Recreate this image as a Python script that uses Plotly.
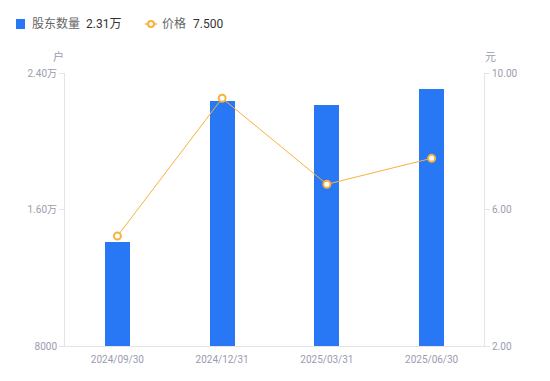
import plotly.graph_objects as go

categories = ["2024/09/30", "2024/12/31", "2025/03/31", "2025/06/30"]
holders = [14100, 22380, 22110, 23050]
prices = [5.22, 9.26, 6.74, 7.50]
left_ticks = [8000, 16000, 24000]
left_ticktext = ["8000", "1.60万", "2.40万"]
right_ticks = [2, 6, 10]
right_ticktext = ["2.00", "6.00", "10.00"]

grey = "#9a9caf"
axis_col = "#e3e3e8"
blue = "#2878f5"
orange = "#f7b23b"
FONT = "Roboto, Noto Sans CJK SC, sans-serif"

# figure placed with an 8px page offset; margins compensate
W, H = 550, 381
L, R, T, B = 57, 74, 65, 43
PW, PH = W - L - R, H - T - B
OFF = 8


def px(xw):
    return (xw - OFF - L) / PW


def py(yw):
    return (H - B - (yw - OFF)) / PH


fig = go.Figure()
fig.add_trace(go.Bar(
    x=categories, y=holders, name="股东数量",
    marker=dict(color=blue, line=dict(width=0)), width=0.24, yaxis="y",
))
fig.add_trace(go.Scatter(
    x=categories, y=prices, name="价格",
    mode="lines+markers", yaxis="y2",
    line=dict(color=orange, width=1),
    marker=dict(symbol="circle", size=7, color="white", line=dict(color=orange, width=2)),
))

shapes = [
    dict(type="rect", xref="paper", yref="paper", x0=px(16), x1=px(25), y0=py(29), y1=py(19),
         fillcolor=blue, line=dict(width=0)),
    dict(type="line", xref="paper", yref="paper", x0=px(145), x1=px(157), y0=py(24), y1=py(24),
         line=dict(color=orange, width=1.5)),
    dict(type="circle", xref="paper", yref="paper", x0=px(148), x1=px(154), y0=py(27), y1=py(21),
         fillcolor="white", line=dict(color=orange, width=2)),
]

annotations = [
    dict(text="股东数量", xref="paper", yref="paper", x=px(30), y=py(24), xanchor="left",
         yanchor="middle", showarrow=False, font=dict(size=12, color="#666", family=FONT)),
    dict(text="2.31万", xref="paper", yref="paper", x=px(84), y=py(24), xanchor="left",
         yanchor="middle", showarrow=False, font=dict(size=12, color="#333", family=FONT)),
    dict(text="价格", xref="paper", yref="paper", x=px(160), y=py(24), xanchor="left",
         yanchor="middle", showarrow=False, font=dict(size=12, color="#666", family=FONT)),
    dict(text="7.500", xref="paper", yref="paper", x=px(191), y=py(24), xanchor="left",
         yanchor="middle", showarrow=False, font=dict(size=12, color="#333", family=FONT)),
    dict(text="户", xref="paper", yref="paper", x=px(58), y=py(57), xanchor="center",
         yanchor="middle", showarrow=False, font=dict(size=11, color=grey, family=FONT)),
    dict(text="元", xref="paper", yref="paper", x=px(490), y=py(57), xanchor="center",
         yanchor="middle", showarrow=False, font=dict(size=11, color=grey, family=FONT)),
]

fig.update_layout(
    width=W, height=H,
    margin=dict(l=L, r=R, t=T, b=B, autoexpand=False),
    plot_bgcolor="white", paper_bgcolor="white",
    font=dict(family=FONT, color=grey, size=10),
    bargap=0,
    showlegend=False,
    shapes=shapes,
    annotations=annotations,
    xaxis=dict(showgrid=False, showline=True, linecolor=axis_col, linewidth=1,
               ticks="", tickfont=dict(size=10, color=grey), zeroline=False,
               automargin=False, ticklabelstandoff=4),
    yaxis=dict(range=[8000, 24000], tickvals=left_ticks, ticktext=left_ticktext,
               showgrid=False, showline=True, linecolor=axis_col, linewidth=1,
               ticks="outside", ticklen=5, tickcolor=axis_col, zeroline=False,
               tickfont=dict(size=10, color=grey), automargin=False),
    yaxis2=dict(range=[2, 10], tickvals=right_ticks, ticktext=right_ticktext,
                overlaying="y", side="right", showgrid=False, showline=True,
                linecolor=axis_col, linewidth=1, ticks="outside", ticklen=5,
                tickcolor=axis_col, zeroline=False, tickfont=dict(size=10, color=grey),
                automargin=False),
)

fig.write_html("out.html")
